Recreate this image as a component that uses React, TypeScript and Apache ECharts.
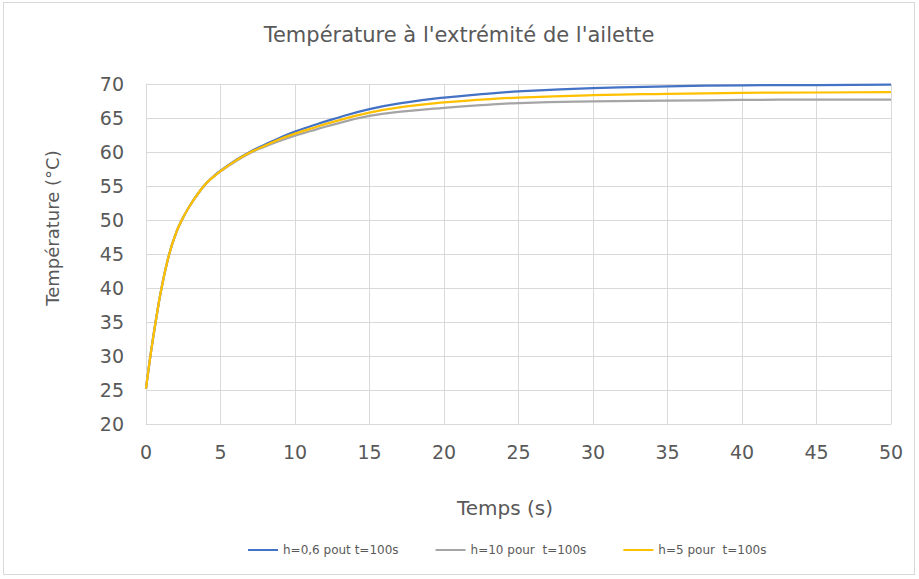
import React, { useEffect, useRef } from "react";
import * as echarts from "echarts";

const times = [0, 0.25, 0.5, 0.75, 1, 1.5, 2, 2.5, 3, 3.5, 4, 4.5, 5, 6, 7, 8, 9, 10, 11, 12.5, 15, 17.5, 20, 22.5, 25, 30, 35, 40, 45, 50];
const seriesBlue = [25.2, 29.3, 33.0, 36.4, 39.5, 44.5, 48.0, 50.4, 52.3, 53.9, 55.3, 56.35, 57.25, 58.75, 60.05, 61.1, 62.1, 63.0, 63.75, 64.8, 66.3, 67.3, 68.0, 68.5, 68.9, 69.4, 69.65, 69.8, 69.85, 69.9];
const seriesGray = [25.2, 29.3, 33.0, 36.4, 39.5, 44.5, 48.0, 50.4, 52.3, 53.9, 55.25, 56.3, 57.15, 58.6, 59.85, 60.8, 61.65, 62.4, 63.05, 64.0, 65.3, 66.0, 66.5, 66.9, 67.2, 67.45, 67.55, 67.65, 67.7, 67.7];
const seriesYellow = [25.2, 29.3, 33.0, 36.4, 39.5, 44.5, 48.0, 50.4, 52.3, 53.9, 55.3, 56.3, 57.2, 58.7, 59.95, 60.95, 61.9, 62.7, 63.4, 64.4, 65.8, 66.7, 67.3, 67.7, 68.0, 68.35, 68.55, 68.7, 68.75, 68.8];
const seriesNames = ["h=0,6 pout t=100s", "h=10 pour  t=100s", "h=5 pour  t=100s"];
const colors = ["#4472C4", "#A5A5A5", "#FFC000"];

const FONT = "'DejaVu Sans', Verdana, sans-serif";
const TXT = "#595959";

export default function App() {
  const ref = useRef<HTMLDivElement>(null);
  useEffect(() => {
    if (!ref.current) return;
    const chart = echarts.init(ref.current, null, { renderer: "svg" });
    const toPairs = (ys: number[]) => times.map((t, i) => [t, ys[i]]);
    const datasets = [seriesBlue, seriesGray, seriesYellow];
    chart.setOption({
      animation: false,
      backgroundColor: "#ffffff",
      title: {
        text: "Température à l'extrémité de l'ailette",
        left: "center",
        top: 16,
        textStyle: { color: TXT, fontFamily: FONT, fontSize: 21, fontWeight: "normal" },
      },
      legend: {
        bottom: 13,
        left: 239,
        itemWidth: 30,
        itemHeight: 2,
        itemGap: 37,
        icon: "rect",
        textStyle: { color: TXT, fontFamily: FONT, fontSize: 12 },
        data: seriesNames,
      },
      graphic: [
        {
          type: "text",
          x: 48,
          y: 225,
          rotation: Math.PI / 2,
          style: {
            text: "Température (°C)",
            fill: TXT,
            font: `18px ${FONT}`,
            align: "center",
            verticalAlign: "middle",
          },
        },
        {
          type: "text",
          x: 501,
          y: 505,
          style: {
            text: "Temps (s)",
            fill: TXT,
            font: `20px ${FONT}`,
            align: "center",
            verticalAlign: "middle",
          },
        },
      ],
      grid: { left: 142, right: 23, top: 81, bottom: 150 },
      xAxis: {
        type: "value",
        min: 0,
        max: 50,
        interval: 5,
        axisLine: { lineStyle: { color: "#D9D9D9" } },
        axisTick: { show: false },
        axisLabel: { color: TXT, fontFamily: FONT, fontSize: 19, margin: 18 },
        splitLine: { show: true, lineStyle: { color: "#D9D9D9" } },
      },
      yAxis: {
        type: "value",
        min: 20,
        max: 70,
        interval: 5,
        axisLine: { show: true, lineStyle: { color: "#D9D9D9" } },
        axisTick: { show: false },
        axisLabel: { color: TXT, fontFamily: FONT, fontSize: 19, margin: 22 },
        splitLine: { show: true, lineStyle: { color: "#D9D9D9" } },
      },
      series: datasets.map((ys, i) => ({
        name: seriesNames[i],
        type: "line",
        data: toPairs(ys),
        smooth: 0.5,
        showSymbol: false,
        symbol: "none",
        lineStyle: { color: colors[i], width: 2.25 },
        itemStyle: { color: colors[i] },
      })),
    });
    return () => chart.dispose();
  }, []);
  return (
    <div style={{ position: "absolute", left: 0, top: 0, width: 919, height: 579, background: "#fff" }}>
      <div
        style={{
          position: "absolute",
          left: 3,
          top: 2,
          width: 912,
          height: 573,
          border: "1px solid #D9D9D9",
          boxSizing: "border-box",
        }}
      />
      <div ref={ref} style={{ position: "absolute", left: 4, top: 3, width: 910, height: 571 }} />
    </div>
  );
}
